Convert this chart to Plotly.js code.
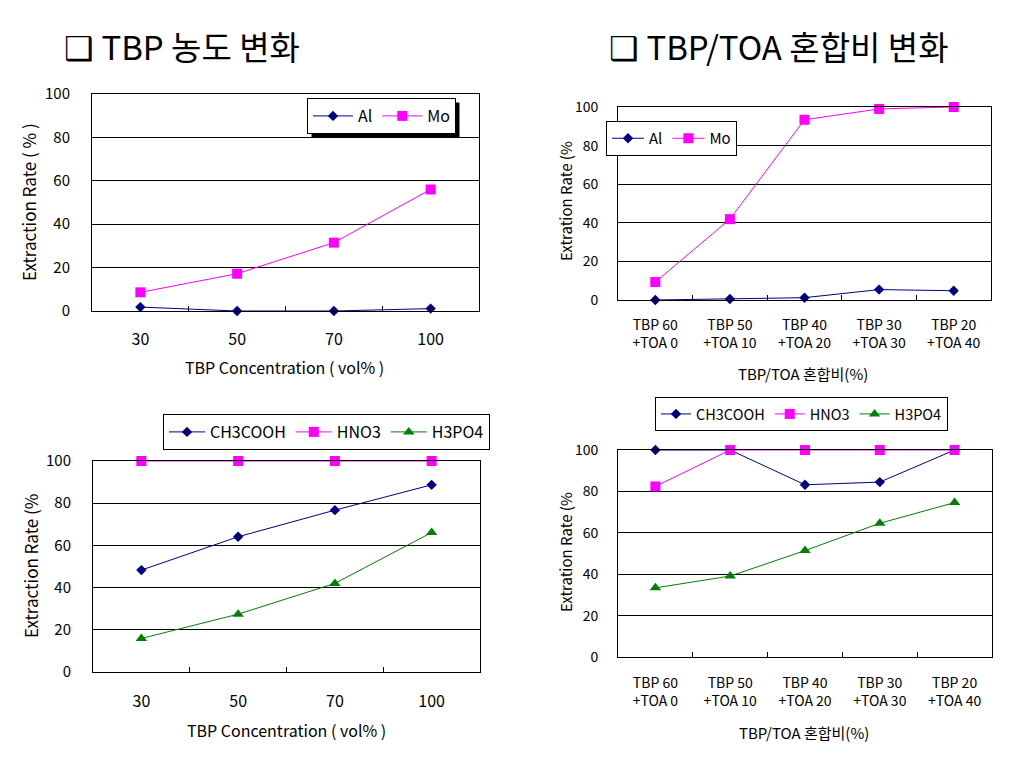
<!DOCTYPE html>
<html><head><meta charset="utf-8">
<script src="https://cdn.plot.ly/plotly-3.0.1.min.js"></script>
<style>html,body{margin:0;padding:0;background:#fff}#chart{width:1022px;height:760px}</style>
</head><body><div id="chart"></div>
<script>
// ---- data ----
const tbpConc = ['30', '50', '70', '100'];
const alByConc = [1.8, 0, 0, 1.1];
const moByConc = [8.6, 17.2, 31.5, 56];
const mixRatio = ['TBP 60<br>+TOA 0', 'TBP 50<br>+TOA 10', 'TBP 40<br>+TOA 20', 'TBP 30<br>+TOA 30', 'TBP 20<br>+TOA 40'];
const alByMix = [0, 0.5, 1.2, 5.4, 4.8];
const moByMix = [9.3, 41.9, 93.4, 99, 100];
const ch3coohByConc = [48.3, 64.1, 76.7, 88.7];
const hno3ByConc = [100, 100, 100, 100];
const h3po4ByConc = [15.9, 27.4, 42, 66.1];
const ch3coohByMix = [100, 100, 83.2, 84.5, 100];
const hno3ByMix = [82.4, 100, 100, 100, 100];
const h3po4ByMix = [33.4, 39.1, 51.4, 64.6, 74.6];
const yTicks = [0, 20, 40, 60, 80, 100];

// ---- styling ----
const W = 1022, H = 760;
const FONT = '"Noto Sans CJK KR", "Liberation Sans", sans-serif';
const NAVY = '#000080', MAG = '#FF00FF', GREEN = '#008000';

function px(x) { return x / W; }
function py(y) { return 1 - y / H; }

function series(x, y, name, color, symbol, size, xa, ya, legend) {
  return {
    x: x, y: y, name: name, type: 'scatter', mode: 'lines+markers',
    xaxis: xa, yaxis: ya, legend: legend, cliponaxis: false,
    line: { color: color, width: 1 },
    marker: { color: color, symbol: symbol, size: size, line: { width: 0 } }
  };
}

const data = [
  series(tbpConc, alByConc, 'Al', NAVY, 'diamond', 8, 'x', 'y', 'legend'),
  series(tbpConc, moByConc, 'Mo', MAG, 'square', 10, 'x', 'y', 'legend'),
  series(mixRatio, alByMix, 'Al', NAVY, 'diamond', 8, 'x2', 'y2', 'legend2'),
  series(mixRatio, moByMix, 'Mo', MAG, 'square', 10, 'x2', 'y2', 'legend2'),
  series(tbpConc, ch3coohByConc, 'CH3COOH', NAVY, 'diamond', 8, 'x3', 'y3', 'legend3'),
  series(tbpConc, hno3ByConc, 'HNO3', MAG, 'square', 10, 'x3', 'y3', 'legend3'),
  series(tbpConc, h3po4ByConc, 'H3PO4', GREEN, 'triangle-up', 10, 'x3', 'y3', 'legend3'),
  series(mixRatio, ch3coohByMix, 'CH3COOH', NAVY, 'diamond', 8, 'x4', 'y4', 'legend4'),
  series(mixRatio, hno3ByMix, 'HNO3', MAG, 'square', 10, 'x4', 'y4', 'legend4'),
  series(mixRatio, h3po4ByMix, 'H3PO4', GREEN, 'triangle-up', 10, 'x4', 'y4', 'legend4')
];

function xax(d0, d1, anchor, n, size, standoff) {
  return {
    domain: [px(d0), px(d1)], anchor: anchor, type: 'category',
    range: [-0.5, n - 0.5], showline: true, mirror: true, linecolor: '#000', linewidth: 1,
    ticks: 'inside', tickson: 'boundaries', ticklen: 5, tickcolor: '#000', tickwidth: 1,
    showgrid: false, zeroline: false, ticklabelstandoff: standoff,
    tickfont: { family: FONT, size: size, color: '#000' }, fixedrange: true
  };
}
function yax(t, b, anchor, size, standoff) {
  return {
    domain: [py(b), py(t)], anchor: anchor, range: [0, 100], tickvals: yTicks,
    showline: true, mirror: true, linecolor: '#000', linewidth: 1,
    showgrid: true, gridcolor: '#000', gridwidth: 1, zeroline: false, ticks: '',
    ticklabelstandoff: standoff,
    tickfont: { family: FONT, size: size, color: '#000' }, fixedrange: true
  };
}
function leg(x, y, size, itemwidth) {
  return {
    x: px(x), y: py(y), xanchor: 'left', yanchor: 'top', orientation: 'h',
    bgcolor: '#fff', bordercolor: '#000', borderwidth: 1, itemwidth: itemwidth,
    font: { family: FONT, size: size, color: '#000' }, itemclick: false, itemdoubleclick: false
  };
}
function note(text, x, y, size, angle, xanchor) {
  return {
    text: text, xref: 'paper', yref: 'paper', x: px(x), y: py(y),
    xanchor: xanchor || 'center', yanchor: 'middle', showarrow: false, textangle: angle || 0,
    font: { family: FONT, size: size, color: '#000' }
  };
}

const layout = {
  width: W, height: H, margin: { l: 0, r: 0, t: 0, b: 0 },
  paper_bgcolor: '#fff', plot_bgcolor: '#fff', showlegend: true,
  xaxis: xax(92, 479, 'y', tbpConc.length, 16, 14),
  yaxis: yax(94, 311, 'x', 15, 18),
  xaxis2: xax(618, 991, 'y2', mixRatio.length, 14, 12),
  yaxis2: yax(107, 300, 'x2', 14, 16),
  xaxis3: xax(93, 480, 'y3', tbpConc.length, 16, 15),
  yaxis3: yax(461, 672, 'x3', 15, 18),
  xaxis4: xax(618, 992, 'y4', mixRatio.length, 14, 13),
  yaxis4: yax(450, 657, 'x4', 14, 16),
  legend: leg(307, 98, 16, 40),
  legend2: leg(606, 121, 15, 32),
  legend3: leg(163, 414, 16, 36),
  legend4: leg(655, 397, 14.5, 30),
  annotations: [
    note('❑ TBP 농도 변화', 62, 46, 33, 0, 'left'),
    note('❑ TBP/TOA 혼합비 변화', 607, 46, 33, 0, 'left'),
    note('Extraction Rate ( % )', 28, 202, 17, -90),
    note('TBP Concentration ( vol% )', 284, 367, 16),
    note('Extration Rate (%', 565, 201, 15, -90),
    note('TBP/TOA 혼합비(%)', 803, 373, 15),
    note('Extraction Rate (%', 30, 566, 17, -90),
    note('TBP Concentration ( vol% )', 286, 730, 16),
    note('Extration Rate (%', 565, 552, 15, -90),
    note('TBP/TOA 혼합비(%)', 804, 732, 15)
  ]
};

const gd = document.getElementById('chart');
Plotly.newPlot(gd, data, layout, { displayModeBar: false, staticPlot: true }).then(function () {
  // drop shadow behind each legend box
  const base = gd.getBoundingClientRect();
  const shapes = [];
  gd.querySelectorAll('.infolayer g.legend rect.bg').forEach(function (r) {
    const b = r.getBoundingClientRect();
    const l = b.left - base.left, t = b.top - base.top;
    const off = 4;
    shapes.push({
      type: 'rect', xref: 'paper', yref: 'paper', layer: 'above',
      x0: px(l + off), x1: px(l + b.width + off), y0: py(t + b.height + off), y1: py(t + off),
      fillcolor: '#000', line: { width: 0 }
    });
  });
  return Plotly.relayout(gd, { shapes: shapes });
});
</script>
</body></html>
